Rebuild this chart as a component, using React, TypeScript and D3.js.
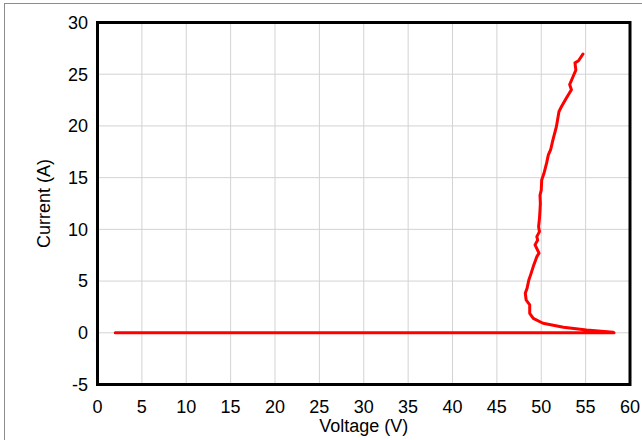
import React from "react";
import * as d3 from "d3";

const xTicks = [0, 5, 10, 15, 20, 25, 30, 35, 40, 45, 50, 55, 60];
const yTicks = [-5, 0, 5, 10, 15, 20, 25, 30];

const voltage = [2.0, 58.2, 58.1, 55.1, 52.5, 50.2, 49.1, 48.7, 48.7, 48.3, 48.2, 48.4, 48.6, 48.8, 49.1, 49.5, 49.75, 49.3, 49.6, 49.5, 49.8, 49.7, 49.8, 49.86, 49.9, 49.86, 50.0, 50.05, 50.3, 50.6, 50.8, 51.06, 51.3, 51.7, 52.0, 52.3, 52.9, 53.4, 53.2, 53.6, 53.9, 53.8, 54.2, 54.7];
const current = [0.0, 0.0, 0.05, 0.27, 0.53, 0.92, 1.4, 1.88, 2.69, 3.17, 3.82, 4.3, 5.1, 5.6, 6.4, 7.36, 7.7, 8.5, 8.97, 9.3, 9.78, 10.26, 11.07, 11.87, 12.5, 13.3, 13.8, 14.77, 15.4, 16.4, 17.2, 17.7, 18.6, 19.9, 21.4, 21.9, 22.8, 23.5, 24.0, 24.8, 25.4, 26.1, 26.3, 26.95];

const W = 642;
const H = 440;
const left = 97.5, right = 630, top = 22.5, bottom = 384.5;
const font = "Liberation Sans, Arial, sans-serif";

export default function App() {
  const x = d3.scaleLinear().domain([0, 60]).range([left, right]);
  const y = d3.scaleLinear().domain([-5, 30]).range([bottom, top]);
  const pts: [number, number][] = voltage.map((v, i) => [v, current[i]]);
  const line = d3.line<[number, number]>().x((d) => x(d[0])).y((d) => y(d[1]));
  return (
    <svg width={W} height={H} style={{ position: "absolute", left: 0, top: 0, background: "#fff" }} fontFamily={font}>
      <rect x={4.5} y={3.5} width={W + 10} height={H + 10} fill="#fff" stroke="#8c8c8c" strokeWidth={1} />
      {xTicks.map((t) => (
        <line key={"gx" + t} x1={x(t)} x2={x(t)} y1={top} y2={bottom} stroke="#d3d3d3" strokeWidth={1} />
      ))}
      {yTicks.map((t) => (
        <line key={"gy" + t} x1={left} x2={right} y1={y(t)} y2={y(t)} stroke="#d3d3d3" strokeWidth={1} />
      ))}
      <path d={line(pts) || ""} fill="none" stroke="#ff0000" strokeWidth={3} strokeLinejoin="round" strokeLinecap="round" />
      <rect x={left} y={top} width={right - left} height={bottom - top} fill="none" stroke="#000" strokeWidth={3} />
      {xTicks.map((t) => (
        <text key={"tx" + t} x={x(t)} y={413} textAnchor="middle" fontSize={18} fill="#000">{t}</text>
      ))}
      {yTicks.map((t) => (
        <text key={"ty" + t} x={88} y={y(t)} dy="0.35em" textAnchor="end" fontSize={18} fill="#000">{t}</text>
      ))}
      <text x={(left + right) / 2} y={432} textAnchor="middle" fontSize={18} fill="#000">Voltage (V)</text>
      <text transform={`translate(50,${(top + bottom) / 2}) rotate(-90)`} textAnchor="middle" fontSize={18} fill="#000">Current (A)</text>
    </svg>
  );
}
